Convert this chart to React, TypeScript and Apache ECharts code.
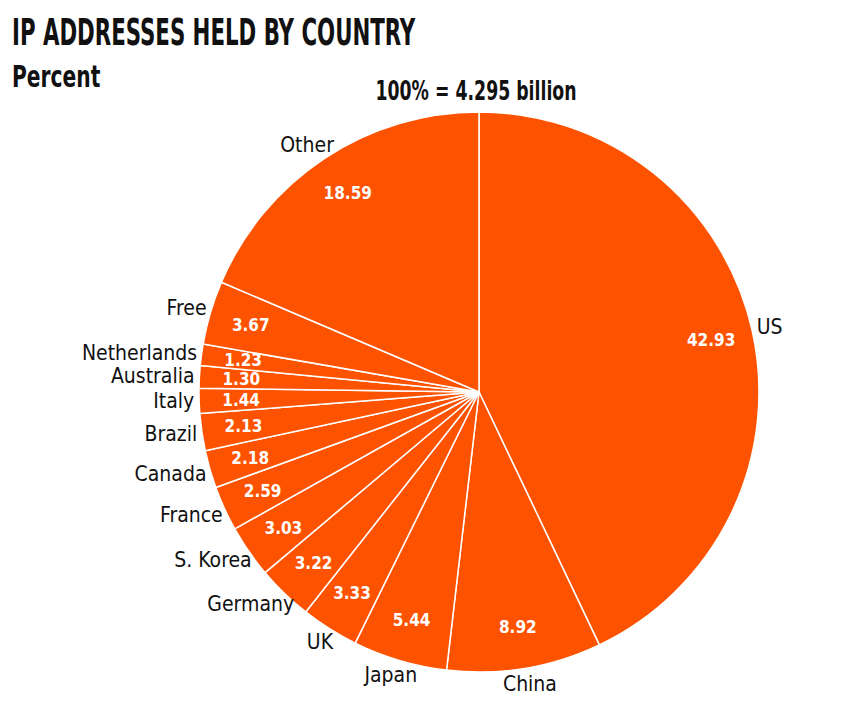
import React, { useEffect, useRef } from "react";
import * as echarts from "echarts";

const countries = ["US", "China", "Japan", "UK", "Germany", "S. Korea", "France", "Canada", "Brazil", "Italy", "Australia", "Netherlands", "Free", "Other"];
const shares = [42.93, 8.92, 5.44, 3.33, 3.22, 3.03, 2.59, 2.18, 2.13, 1.44, 1.30, 1.23, 3.67, 18.59];
const titleText = "IP ADDRESSES HELD BY COUNTRY";
const subtitleText = "Percent";
const totalText = "100% = 4.295 billion";

const FONT = "'DejaVu Sans Condensed', 'DejaVu Sans', sans-serif";
const ORANGE = "#FD5200";
const CX = 479;
const CY = 392;
const R = 280;
const GAP = 5;

export default function App() {
  const ref = useRef<HTMLDivElement>(null);
  useEffect(() => {
    if (!ref.current) return;
    const chart = echarts.init(ref.current, null, { renderer: "svg" });
    const data = countries.map((c, i) => ({ name: c, value: shares[i] }));
    const total = shares.reduce((a, b) => a + b, 0);
    const mids: number[] = [];
    let acc = 0;
    shares.forEach((v) => {
      mids.push(((acc + v / 2) / total) * Math.PI * 2);
      acc += v;
    });
    chart.setOption({
      animation: false,
      backgroundColor: "#ffffff",
      graphic: [
        {
          type: "text",
          x: 12,
          y: 13,
          scaleX: 0.64,
          style: { text: titleText, fontFamily: FONT, fontWeight: "bold", fontSize: 37, fill: "#111" },
        },
        {
          type: "text",
          x: 12,
          y: 61,
          scaleX: 0.75,
          style: { text: subtitleText, fontFamily: FONT, fontWeight: "bold", fontSize: 30, fill: "#111" },
        },
        {
          type: "text",
          x: 476,
          y: 78,
          scaleX: 0.74,
          style: { text: totalText, fontFamily: FONT, fontWeight: "bold", fontSize: 26, fill: "#111", align: "center" },
        },
      ],
      series: [
        {
          type: "pie",
          center: [CX, CY],
          radius: [0, R],
          startAngle: 90,
          clockwise: true,
          avoidLabelOverlap: false,
          silent: true,
          data,
          itemStyle: { color: ORANGE, borderColor: "#ffffff", borderWidth: 1.5 },
          label: {
            show: true,
            position: "outside",
            formatter: "{b}",
            fontFamily: FONT,
            fontSize: 21,
            color: "#111",
          },
          labelLine: { show: false, length: 8, length2: 0 },
          labelLayout: (p: any) => {
            const th = mids[p.dataIndex];
            const ux = Math.sin(th);
            const uy = -Math.cos(th);
            const w = p.labelRect.width;
            const h = p.labelRect.height;
            return {
              x: CX + ux * (R + GAP) + (ux * w) / 2,
              y: CY + uy * (R + GAP) + (uy * h) / 2,
              align: "center",
              verticalAlign: "middle",
              hideOverlap: false,
            };
          },
        },
        {
          type: "pie",
          center: [CX, CY],
          radius: [190, R],
          startAngle: 90,
          clockwise: true,
          avoidLabelOverlap: false,
          silent: true,
          data,
          itemStyle: { color: "rgba(0,0,0,0)", borderWidth: 0 },
          label: {
            show: true,
            position: "inside",
            formatter: (p: any) => p.value.toFixed(2),
            fontFamily: FONT,
            fontWeight: "bold",
            fontSize: 17,
            color: "#ffffff",
          },
          labelLine: { show: false },
          labelLayout: { hideOverlap: false },
        },
      ],
    });
    return () => chart.dispose();
  }, []);
  return <div ref={ref} style={{ position: "absolute", left: 0, top: 0, width: 857, height: 710 }} />;
}
